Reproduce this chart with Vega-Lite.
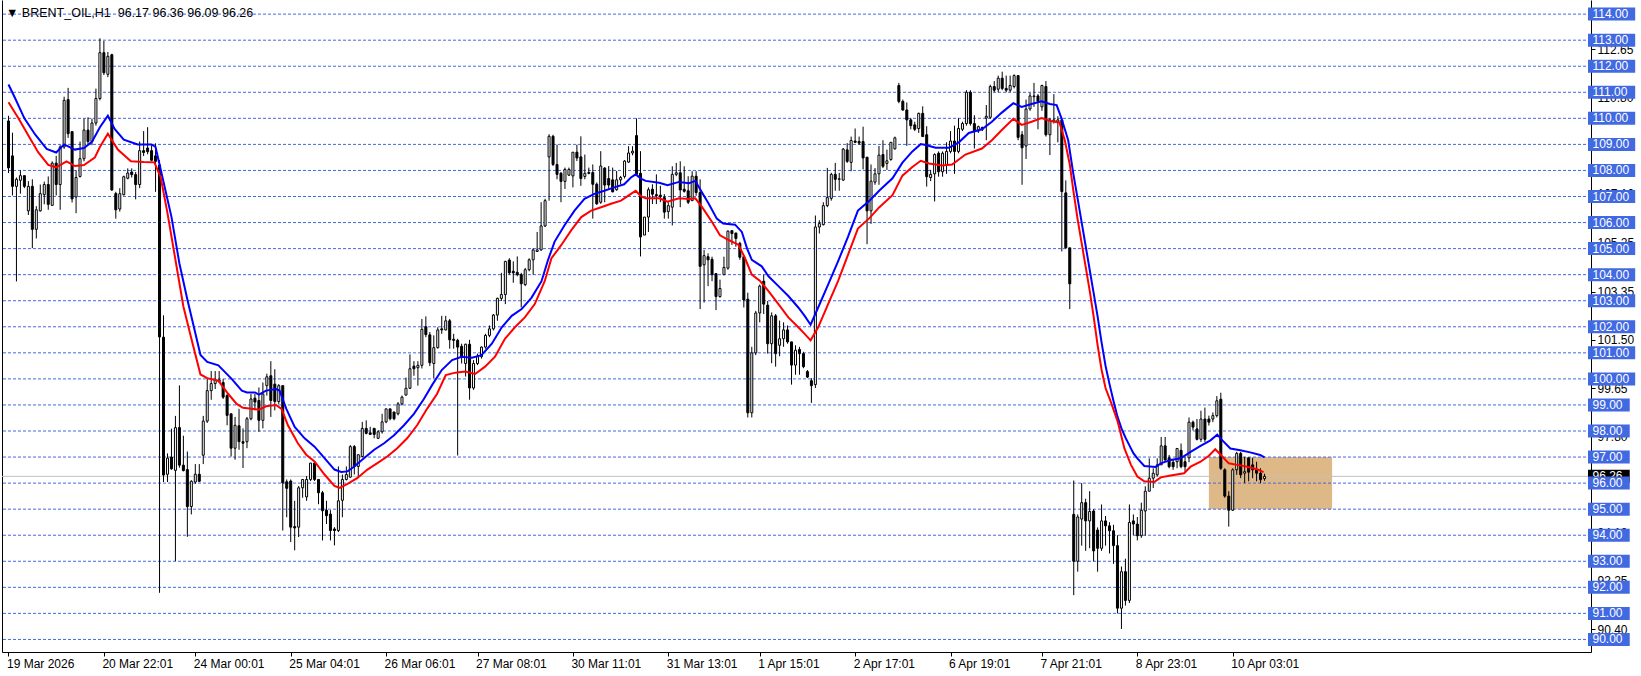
{
"$schema":"https://vega.github.io/schema/vega-lite/v6.json",
"width":1589,"height":652,
"autosize":{"type":"none"},
"padding":{"left":2,"top":0,"right":50,"bottom":24},
"background":"white",
"config":{"view":{"stroke":null},"font":"Liberation Sans"},
"title":{"text":"▼ BRENT_OIL,H1\u00a0 96.17 96.36 96.09 96.26","anchor":"start","frame":"group","orient":"top","offset":0,"dx":4,"dy":29,"font":"Liberation Sans","fontSize":12.5,"fontWeight":"normal","color":"black","baseline":"alphabetic"},
"datasets":{
"lv":[{"p":90},{"p":91},{"p":92},{"p":93},{"p":94},{"p":95},{"p":96},{"p":97},{"p":98},{"p":99},{"p":100},{"p":101},{"p":102},{"p":103},{"p":104},{"p":105},{"p":106},{"p":107},{"p":108},{"p":109},{"p":110},{"p":111},{"p":112},{"p":113},{"p":114}],
"cd":[
{"b":0,"o":109.9,"h":110.1,"l":107.9,"c":108.1},{"b":1,"o":108.56,"h":109.45,"l":107.04,"c":107.39},{"b":2,"o":107.39,"h":107.73,"l":103.74,"c":107.66},{"b":3,"o":107.62,"h":108.01,"l":107.11,"c":107.8},{"b":4,"o":107.8,"h":107.8,"l":107.32,"c":107.39},{"b":5,"o":106.45,"h":107.59,"l":106.29,"c":107.39},{"b":6,"o":107.39,"h":107.66,"l":105.02,"c":105.74},{"b":7,"o":105.74,"h":106.63,"l":105.39,"c":106.49},{"b":8,"o":106.45,"h":107.46,"l":106.42,"c":107.11},{"b":9,"o":107.07,"h":107.57,"l":106.7,"c":107.46},
{"b":10,"o":107.46,"h":107.77,"l":106.49,"c":106.7},{"b":11,"o":106.66,"h":108.35,"l":106.66,"c":108.28},{"b":12,"o":108.28,"h":108.56,"l":107.04,"c":107.46},{"b":13,"o":107.46,"h":108.97,"l":106.49,"c":108.9},{"b":14,"o":108.9,"h":110.83,"l":108.83,"c":110.69},{"b":15,"o":110.72,"h":111.17,"l":109.25,"c":109.41},{"b":16,"o":109.49,"h":109.49,"l":106.77,"c":106.91},{"b":17,"o":106.98,"h":108.01,"l":106.36,"c":107.73},{"b":18,"o":107.77,"h":109.11,"l":107.73,"c":108.45},{"b":19,"o":108.45,"h":109.99,"l":108.35,"c":109.55},
{"b":20,"o":109.55,"h":110.04,"l":108.97,"c":109.11},{"b":21,"o":109.11,"h":109.99,"l":108.97,"c":109.82},{"b":22,"o":109.82,"h":111.14,"l":109.72,"c":110.76},{"b":23,"o":110.76,"h":113.07,"l":110.69,"c":112.52},{"b":24,"o":112.52,"h":112.97,"l":111.66,"c":111.75},{"b":25,"o":111.69,"h":112.55,"l":111.58,"c":112.38},{"b":26,"o":112.44,"h":112.48,"l":107.22,"c":107.25},{"b":27,"o":107.11,"h":107.18,"l":106.15,"c":106.49},{"b":28,"o":106.52,"h":107.32,"l":106.42,"c":107.11},{"b":29,"o":107.07,"h":107.8,"l":107.04,"c":107.76},
{"b":30,"o":107.7,"h":108.08,"l":107.66,"c":107.9},{"b":31,"o":107.94,"h":108.08,"l":107.73,"c":107.84},{"b":32,"o":107.84,"h":107.94,"l":106.89,"c":107.46},{"b":33,"o":107.46,"h":109.11,"l":107.32,"c":108.76},{"b":34,"o":108.76,"h":109.51,"l":108.55,"c":108.69},{"b":35,"o":108.86,"h":109.66,"l":108.62,"c":108.72},{"b":36,"o":108.76,"h":108.97,"l":108.35,"c":108.39},{"b":37,"o":108.56,"h":109.04,"l":107.18,"c":108.35},{"b":38,"o":108.21,"h":108.4,"l":91.79,"c":101.61},{"b":39,"o":101.6,"h":102.44,"l":96.04,"c":96.31},
{"b":40,"o":96.34,"h":97.14,"l":96.04,"c":96.96},{"b":41,"o":97.0,"h":98.09,"l":96.51,"c":96.55},{"b":42,"o":96.49,"h":98.58,"l":93.01,"c":98.13},{"b":43,"o":98.13,"h":99.75,"l":96.59,"c":96.69},{"b":44,"o":96.69,"h":97.82,"l":96.45,"c":96.48},{"b":45,"o":96.52,"h":97.21,"l":93.94,"c":95.1},{"b":46,"o":95.1,"h":96.11,"l":94.8,"c":96.07},{"b":47,"o":96.04,"h":96.73,"l":95.97,"c":96.34},{"b":48,"o":96.34,"h":96.73,"l":96.04,"c":96.07},{"b":49,"o":97.07,"h":98.58,"l":96.73,"c":98.38},
{"b":50,"o":98.38,"h":100.03,"l":98.31,"c":99.55},{"b":51,"o":99.55,"h":100.3,"l":99.2,"c":99.82},{"b":52,"o":99.82,"h":100.3,"l":99.61,"c":99.96},{"b":53,"o":99.89,"h":100.3,"l":99.89,"c":99.96},{"b":54,"o":99.86,"h":99.99,"l":99.23,"c":99.3},{"b":55,"o":99.36,"h":99.42,"l":98.22,"c":98.6},{"b":56,"o":98.66,"h":98.66,"l":97.02,"c":97.34},{"b":57,"o":97.34,"h":98.54,"l":96.9,"c":98.22},{"b":58,"o":98.2,"h":98.85,"l":97.28,"c":97.59},{"b":59,"o":97.59,"h":98.1,"l":96.58,"c":97.53},
{"b":60,"o":97.59,"h":98.54,"l":97.34,"c":98.47},{"b":61,"o":98.47,"h":99.42,"l":98.41,"c":99.23},{"b":62,"o":99.26,"h":99.42,"l":98.79,"c":99.11},{"b":63,"o":99.17,"h":99.67,"l":97.97,"c":98.41},{"b":64,"o":98.41,"h":99.86,"l":98.1,"c":99.42},{"b":65,"o":99.74,"h":100.2,"l":99.36,"c":100.08},{"b":66,"o":100.12,"h":100.68,"l":98.54,"c":99.17},{"b":67,"o":99.8,"h":100.37,"l":98.79,"c":99.13},{"b":68,"o":99.13,"h":99.8,"l":99.04,"c":99.74},{"b":69,"o":99.74,"h":99.74,"l":94.18,"c":96.01},
{"b":70,"o":96.05,"h":96.14,"l":94.69,"c":95.8},{"b":71,"o":96.08,"h":96.14,"l":93.74,"c":94.31},{"b":72,"o":94.33,"h":95.32,"l":93.42,"c":94.28},{"b":73,"o":94.31,"h":95.89,"l":93.93,"c":95.82},{"b":74,"o":95.82,"h":96.14,"l":95.44,"c":96.14},{"b":75,"o":95.47,"h":96.27,"l":95.32,"c":96.14},{"b":76,"o":96.14,"h":96.77,"l":96.08,"c":96.77},{"b":77,"o":96.77,"h":96.84,"l":96.08,"c":96.14},{"b":78,"o":96.14,"h":96.14,"l":95.19,"c":95.63},{"b":79,"o":95.63,"h":95.7,"l":93.8,"c":94.94},
{"b":80,"o":94.96,"h":95.32,"l":94.43,"c":94.75},{"b":81,"o":94.81,"h":94.96,"l":93.8,"c":94.18},{"b":82,"o":94.24,"h":94.31,"l":93.61,"c":94.18},{"b":83,"o":94.18,"h":96.64,"l":94.12,"c":95.32},{"b":84,"o":95.34,"h":96.33,"l":94.69,"c":96.14},{"b":85,"o":96.14,"h":96.64,"l":96.1,"c":96.33},{"b":86,"o":96.23,"h":97.46,"l":96.2,"c":97.4},{"b":87,"o":97.4,"h":97.46,"l":96.33,"c":96.64},{"b":88,"o":96.64,"h":97.09,"l":96.2,"c":97.09},{"b":89,"o":97.02,"h":98.35,"l":96.98,"c":98.1},
{"b":90,"o":98.1,"h":98.41,"l":97.87,"c":97.91},{"b":91,"o":97.93,"h":98.16,"l":97.87,"c":97.87},{"b":92,"o":98.1,"h":98.12,"l":97.72,"c":97.87},{"b":93,"o":97.72,"h":98.03,"l":97.69,"c":97.97},{"b":94,"o":97.97,"h":98.66,"l":97.9,"c":98.35},{"b":95,"o":98.35,"h":98.85,"l":98.3,"c":98.85},{"b":96,"o":98.85,"h":98.85,"l":98.41,"c":98.47},{"b":97,"o":98.73,"h":98.73,"l":98.41,"c":98.47},{"b":98,"o":98.66,"h":99.11,"l":98.6,"c":99.04},{"b":99,"o":99.04,"h":99.36,"l":98.98,"c":99.3},
{"b":100,"o":99.38,"h":100.05,"l":99.36,"c":99.64},{"b":101,"o":99.64,"h":100.94,"l":99.61,"c":100.39},{"b":102,"o":100.49,"h":100.68,"l":100.12,"c":100.39},{"b":103,"o":100.43,"h":100.68,"l":99.74,"c":100.52},{"b":104,"o":100.52,"h":102.3,"l":100.4,"c":101.9},{"b":105,"o":102.0,"h":102.4,"l":101.6,"c":101.7},{"b":106,"o":101.69,"h":101.8,"l":100.49,"c":100.62},{"b":107,"o":100.59,"h":101.67,"l":100.03,"c":101.2},{"b":108,"o":101.2,"h":101.98,"l":101.16,"c":101.88},{"b":109,"o":101.92,"h":102.42,"l":101.73,"c":101.88},
{"b":110,"o":101.88,"h":102.42,"l":101.86,"c":102.23},{"b":111,"o":102.23,"h":102.3,"l":101.16,"c":101.5},{"b":112,"o":101.52,"h":101.73,"l":101.16,"c":101.48},{"b":113,"o":101.48,"h":101.54,"l":97.06,"c":101.22},{"b":114,"o":101.25,"h":101.35,"l":100.59,"c":100.85},{"b":115,"o":100.59,"h":101.35,"l":100.09,"c":101.33},{"b":116,"o":101.33,"h":101.5,"l":99.2,"c":99.65},{"b":117,"o":99.65,"h":100.72,"l":99.58,"c":100.59},{"b":118,"o":100.59,"h":100.97,"l":100.53,"c":100.87},{"b":119,"o":100.85,"h":101.25,"l":100.78,"c":101.22},
{"b":120,"o":101.22,"h":101.73,"l":101.16,"c":101.67},{"b":121,"o":101.67,"h":102.05,"l":101.6,"c":101.92},{"b":122,"o":101.92,"h":102.49,"l":101.86,"c":102.45},{"b":123,"o":102.45,"h":103.12,"l":102.23,"c":103.09},{"b":124,"o":103.09,"h":104.07,"l":102.99,"c":103.24},{"b":125,"o":103.24,"h":104.53,"l":102.87,"c":104.51},{"b":126,"o":104.56,"h":104.63,"l":104.0,"c":104.07},{"b":127,"o":104.13,"h":104.51,"l":103.69,"c":104.07},{"b":128,"o":104.09,"h":104.7,"l":103.94,"c":104.0},{"b":129,"o":104.0,"h":104.07,"l":102.74,"c":103.65},
{"b":130,"o":103.62,"h":104.26,"l":103.56,"c":104.19},{"b":131,"o":104.19,"h":104.63,"l":104.13,"c":104.57},{"b":132,"o":104.57,"h":105.01,"l":104.0,"c":104.95},{"b":133,"o":104.89,"h":105.64,"l":104.89,"c":104.95},{"b":134,"o":104.95,"h":106.78,"l":104.92,"c":105.87},{"b":135,"o":105.87,"h":106.91,"l":105.83,"c":106.84},{"b":136,"o":108.52,"h":109.39,"l":106.84,"c":109.31},{"b":137,"o":109.31,"h":109.37,"l":108.17,"c":108.23},{"b":138,"o":108.23,"h":108.99,"l":107.66,"c":107.85},{"b":139,"o":107.89,"h":107.94,"l":106.78,"c":107.58},
{"b":140,"o":107.58,"h":108.11,"l":107.29,"c":108.04},{"b":141,"o":107.82,"h":108.11,"l":107.79,"c":108.04},{"b":142,"o":107.79,"h":108.7,"l":107.35,"c":108.7},{"b":143,"o":108.7,"h":108.99,"l":108.36,"c":108.48},{"b":144,"o":108.52,"h":109.31,"l":107.41,"c":107.69},{"b":145,"o":107.77,"h":108.61,"l":107.66,"c":107.89},{"b":146,"o":107.92,"h":108.11,"l":107.85,"c":107.89},{"b":147,"o":107.92,"h":108.23,"l":106.15,"c":107.47},{"b":148,"o":107.47,"h":107.54,"l":106.68,"c":106.72},{"b":149,"o":106.78,"h":108.74,"l":106.72,"c":108.17},
{"b":150,"o":108.09,"h":108.13,"l":106.78,"c":107.44},{"b":151,"o":107.69,"h":108.17,"l":107.29,"c":107.44},{"b":152,"o":107.64,"h":108.11,"l":107.16,"c":107.18},{"b":153,"o":107.26,"h":107.98,"l":107.22,"c":107.64},{"b":154,"o":107.64,"h":107.79,"l":107.47,"c":107.73},{"b":155,"o":107.77,"h":108.4,"l":107.69,"c":108.36},{"b":156,"o":108.32,"h":108.93,"l":108.29,"c":108.67},{"b":157,"o":108.67,"h":108.93,"l":108.58,"c":108.74},{"b":158,"o":109.34,"h":110.0,"l":107.79,"c":107.85},{"b":159,"o":107.89,"h":108.74,"l":104.7,"c":105.45},
{"b":160,"o":105.52,"h":106.21,"l":105.52,"c":106.21},{"b":161,"o":106.21,"h":107.35,"l":105.64,"c":107.26},{"b":162,"o":107.28,"h":107.47,"l":106.71,"c":107.09},{"b":163,"o":107.07,"h":107.85,"l":106.71,"c":107.03},{"b":164,"o":107.05,"h":107.41,"l":106.78,"c":106.99},{"b":165,"o":106.96,"h":107.09,"l":106.15,"c":106.4},{"b":166,"o":106.42,"h":106.78,"l":106.15,"c":106.65},{"b":167,"o":106.59,"h":108.16,"l":105.89,"c":107.85},{"b":168,"o":107.85,"h":108.29,"l":107.78,"c":107.91},{"b":169,"o":107.91,"h":108.35,"l":106.59,"c":107.25},
{"b":170,"o":107.28,"h":108.16,"l":107.15,"c":107.2},{"b":171,"o":107.22,"h":107.78,"l":106.71,"c":106.78},{"b":172,"o":106.84,"h":107.97,"l":106.84,"c":107.78},{"b":173,"o":107.78,"h":107.97,"l":107.03,"c":107.15},{"b":174,"o":107.15,"h":107.66,"l":102.68,"c":104.32},{"b":175,"o":104.38,"h":104.95,"l":102.93,"c":104.73},{"b":176,"o":104.69,"h":104.82,"l":103.56,"c":104.57},{"b":177,"o":104.59,"h":104.69,"l":103.75,"c":104.0},{"b":178,"o":104.04,"h":104.06,"l":102.64,"c":103.16},{"b":179,"o":103.16,"h":103.81,"l":103.12,"c":103.47},
{"b":180,"o":104.0,"h":104.69,"l":103.98,"c":104.28},{"b":181,"o":104.25,"h":105.7,"l":104.19,"c":105.67},{"b":182,"o":105.69,"h":105.69,"l":105.14,"c":105.58},{"b":183,"o":105.6,"h":105.6,"l":105.07,"c":105.39},{"b":184,"o":105.2,"h":105.26,"l":104.57,"c":104.67},{"b":185,"o":104.69,"h":104.76,"l":102.74,"c":103.03},{"b":186,"o":103.06,"h":103.31,"l":98.52,"c":98.7},{"b":187,"o":98.7,"h":101.23,"l":98.52,"c":101.0},{"b":188,"o":101.0,"h":102.61,"l":100.91,"c":102.53},{"b":189,"o":102.53,"h":103.62,"l":102.17,"c":103.56},
{"b":190,"o":103.75,"h":104.0,"l":102.49,"c":102.87},{"b":191,"o":102.83,"h":102.99,"l":100.97,"c":101.35},{"b":192,"o":101.35,"h":102.55,"l":100.6,"c":102.42},{"b":193,"o":102.42,"h":102.49,"l":100.47,"c":100.97},{"b":194,"o":101.29,"h":102.24,"l":100.87,"c":101.54},{"b":195,"o":101.54,"h":102.17,"l":101.23,"c":101.88},{"b":196,"o":101.88,"h":102.05,"l":101.35,"c":101.42},{"b":197,"o":101.42,"h":101.42,"l":99.78,"c":100.53},{"b":198,"o":100.53,"h":101.29,"l":100.16,"c":101.1},{"b":199,"o":101.13,"h":101.23,"l":100.16,"c":100.97},
{"b":200,"o":100.97,"h":101.04,"l":100.41,"c":100.47},{"b":201,"o":100.28,"h":100.34,"l":100.03,"c":100.07},{"b":202,"o":99.93,"h":100.03,"l":99.08,"c":99.74},{"b":203,"o":99.78,"h":106.27,"l":99.65,"c":105.83},{"b":204,"o":105.83,"h":106.09,"l":105.58,"c":105.96},{"b":205,"o":105.92,"h":106.78,"l":105.89,"c":106.65},{"b":206,"o":106.65,"h":108.1,"l":106.59,"c":106.96},{"b":207,"o":106.93,"h":107.91,"l":106.84,"c":107.85},{"b":208,"o":107.85,"h":108.29,"l":107.22,"c":107.66},{"b":209,"o":107.66,"h":107.91,"l":107.22,"c":107.68},
{"b":210,"o":107.63,"h":108.86,"l":107.6,"c":108.82},{"b":211,"o":108.79,"h":109.05,"l":108.29,"c":108.35},{"b":212,"o":108.31,"h":109.3,"l":107.97,"c":109.15},{"b":213,"o":109.13,"h":109.61,"l":109.05,"c":109.08},{"b":214,"o":109.11,"h":109.3,"l":108.98,"c":109.05},{"b":215,"o":109.11,"h":109.68,"l":108.04,"c":108.48},{"b":216,"o":108.51,"h":108.51,"l":105.17,"c":106.45},{"b":217,"o":106.45,"h":108.23,"l":105.95,"c":107.59},{"b":218,"o":107.55,"h":108.09,"l":107.45,"c":107.87},{"b":219,"o":107.87,"h":108.94,"l":107.45,"c":108.59},
{"b":220,"o":108.61,"h":109.16,"l":108.09,"c":108.16},{"b":221,"o":108.27,"h":108.8,"l":108.02,"c":108.37},{"b":222,"o":108.42,"h":109.08,"l":108.37,"c":109.08},{"b":223,"o":108.83,"h":109.3,"l":108.8,"c":109.25},{"b":224,"o":111.26,"h":111.36,"l":110.58,"c":110.65},{"b":225,"o":110.65,"h":110.72,"l":110.29,"c":110.32},{"b":226,"o":110.32,"h":110.61,"l":108.94,"c":109.94},{"b":227,"o":109.94,"h":110.01,"l":109.58,"c":109.72},{"b":228,"o":109.75,"h":109.87,"l":109.51,"c":109.58},{"b":229,"o":109.61,"h":110.22,"l":109.44,"c":110.19},
{"b":230,"o":110.19,"h":110.46,"l":109.3,"c":109.3},{"b":231,"o":109.37,"h":109.7,"l":107.38,"c":107.76},{"b":232,"o":107.73,"h":108.02,"l":107.59,"c":107.85},{"b":233,"o":107.87,"h":108.66,"l":106.81,"c":108.61},{"b":234,"o":108.66,"h":108.73,"l":107.76,"c":107.95},{"b":235,"o":107.95,"h":108.73,"l":107.76,"c":108.66},{"b":236,"o":108.23,"h":109.08,"l":107.87,"c":108.73},{"b":237,"o":108.73,"h":109.51,"l":108.66,"c":109.13},{"b":238,"o":109.13,"h":109.72,"l":107.87,"c":108.73},{"b":239,"o":108.73,"h":110.01,"l":108.66,"c":109.61},
{"b":240,"o":109.58,"h":109.87,"l":109.51,"c":109.8},{"b":241,"o":109.8,"h":111.08,"l":109.72,"c":111.0},{"b":242,"o":111.0,"h":111.08,"l":109.72,"c":109.8},{"b":243,"o":109.8,"h":110.12,"l":108.84,"c":109.51},{"b":244,"o":109.51,"h":109.72,"l":109.44,"c":109.68},{"b":245,"o":109.65,"h":109.68,"l":109.51,"c":109.58},{"b":246,"o":110.01,"h":110.51,"l":109.16,"c":110.08},{"b":247,"o":110.04,"h":111.29,"l":109.98,"c":111.22},{"b":248,"o":111.22,"h":111.43,"l":111.0,"c":111.08},{"b":249,"o":111.12,"h":111.64,"l":111.0,"c":111.54},
{"b":250,"o":111.54,"h":111.79,"l":111.08,"c":111.15},{"b":251,"o":111.15,"h":111.64,"l":111.0,"c":111.08},{"b":252,"o":111.08,"h":111.64,"l":111.0,"c":111.26},{"b":253,"o":111.22,"h":111.69,"l":111.15,"c":111.64},{"b":254,"o":111.64,"h":111.64,"l":109.16,"c":109.27},{"b":255,"o":109.37,"h":109.51,"l":107.45,"c":108.87},{"b":256,"o":108.94,"h":110.72,"l":108.44,"c":110.36},{"b":257,"o":110.36,"h":110.98,"l":110.29,"c":110.86},{"b":258,"o":110.83,"h":111.36,"l":110.44,"c":110.86},{"b":259,"o":110.86,"h":110.93,"l":109.58,"c":110.65},
{"b":260,"o":110.44,"h":111.29,"l":110.29,"c":111.26},{"b":261,"o":111.22,"h":111.43,"l":109.3,"c":109.37},{"b":262,"o":109.37,"h":110.01,"l":108.59,"c":109.94},{"b":263,"o":109.89,"h":110.93,"l":109.8,"c":109.94},{"b":264,"o":109.87,"h":110.08,"l":109.08,"c":109.94},{"b":265,"o":109.94,"h":110.01,"l":104.89,"c":107.19},{"b":266,"o":107.14,"h":107.62,"l":105.0,"c":105.03},{"b":267,"o":105.03,"h":105.03,"l":102.68,"c":103.65},{"b":268,"o":94.8,"h":96.1,"l":91.7,"c":93.0},{"b":269,"o":93.0,"h":94.8,"l":92.6,"c":94.7},
{"b":270,"o":94.62,"h":96.0,"l":93.6,"c":95.25},{"b":271,"o":95.25,"h":95.4,"l":93.4,"c":94.55},{"b":272,"o":94.55,"h":95.69,"l":93.5,"c":94.91},{"b":273,"o":94.93,"h":95.0,"l":93.0,"c":93.4},{"b":274,"o":94.2,"h":94.3,"l":92.6,"c":93.5},{"b":275,"o":93.5,"h":95.18,"l":93.4,"c":94.55},{"b":276,"o":94.55,"h":94.74,"l":93.6,"c":94.36},{"b":277,"o":94.36,"h":94.5,"l":93.3,"c":94.17},{"b":278,"o":94.17,"h":94.4,"l":92.9,"c":93.6},{"b":279,"o":93.6,"h":94.0,"l":91.0,"c":91.2},
{"b":280,"o":91.2,"h":92.8,"l":90.4,"c":92.6},{"b":281,"o":92.6,"h":93.1,"l":91.3,"c":91.5},{"b":282,"o":91.5,"h":95.18,"l":91.4,"c":94.49},{"b":283,"o":94.55,"h":94.8,"l":94.0,"c":94.43},{"b":284,"o":94.43,"h":94.7,"l":93.8,"c":93.98},{"b":285,"o":93.98,"h":95.25,"l":93.9,"c":94.96},{"b":286,"o":94.93,"h":95.88,"l":93.98,"c":95.69},{"b":287,"o":95.69,"h":96.95,"l":95.69,"c":96.19},{"b":288,"o":96.19,"h":96.57,"l":95.81,"c":96.38},{"b":289,"o":96.32,"h":96.95,"l":96.25,"c":96.7},
{"b":290,"o":96.7,"h":97.77,"l":96.7,"c":97.43},{"b":291,"o":97.43,"h":97.77,"l":96.82,"c":96.89},{"b":292,"o":96.97,"h":97.08,"l":96.57,"c":96.63},{"b":293,"o":96.8,"h":96.92,"l":96.51,"c":96.63},{"b":294,"o":96.82,"h":97.33,"l":96.57,"c":97.33},{"b":295,"o":97.26,"h":97.52,"l":96.57,"c":96.63},{"b":296,"o":96.82,"h":97.01,"l":96.44,"c":96.63},{"b":297,"o":96.97,"h":98.52,"l":96.8,"c":98.34},{"b":298,"o":98.34,"h":98.4,"l":98.02,"c":98.15},{"b":299,"o":98.08,"h":98.46,"l":97.64,"c":97.68},
{"b":300,"o":97.68,"h":98.78,"l":97.58,"c":98.46},{"b":301,"o":98.46,"h":98.9,"l":97.58,"c":97.68},{"b":302,"o":98.46,"h":98.59,"l":98.21,"c":98.34},{"b":303,"o":98.46,"h":98.71,"l":98.34,"c":98.59},{"b":304,"o":98.59,"h":99.34,"l":98.52,"c":99.16},{"b":305,"o":99.22,"h":99.47,"l":96.51,"c":96.57},{"b":306,"o":96.51,"h":96.57,"l":95.44,"c":95.5},{"b":307,"o":95.5,"h":95.69,"l":94.33,"c":94.96},{"b":308,"o":94.96,"h":96.57,"l":94.93,"c":96.51},{"b":309,"o":96.51,"h":97.2,"l":96.32,"c":97.14},
{"b":310,"o":97.14,"h":97.2,"l":96.19,"c":96.32},{"b":311,"o":96.38,"h":97.01,"l":96.0,"c":96.44},{"b":312,"o":96.97,"h":96.97,"l":96.07,"c":96.42},{"b":313,"o":96.7,"h":96.97,"l":96.19,"c":96.51},{"b":314,"o":96.51,"h":96.82,"l":96.07,"c":96.38},{"b":315,"o":96.38,"h":96.57,"l":96.0,"c":96.13},{"b":316,"o":96.17,"h":96.36,"l":96.09,"c":96.26}
],
"ma":[
{"s":"b","b":0,"v":111.3},{"s":"b","b":1.7,"v":110.76},{"s":"b","b":4,"v":110.0},{"s":"b","b":6.7,"v":109.38},{"s":"b","b":9.6,"v":108.83},{"s":"b","b":12,"v":108.69},{"s":"b","b":14,"v":109.0},{"s":"b","b":16.7,"v":108.8},{"s":"b","b":19,"v":108.86},{"s":"b","b":21,"v":109.1},{"s":"b","b":23,"v":109.66},{"s":"b","b":25,"v":110.1},{"s":"b","b":26.7,"v":109.59},{"s":"b","b":29,"v":109.18},{"s":"b","b":32.5,"v":109.0},{"s":"b","b":36,"v":109.0},{"s":"b","b":37,"v":108.9},{"s":"b","b":38.75,"v":107.73},{"s":"b","b":41,"v":106.22},{"s":"b","b":43,"v":104.43},{"s":"b","b":45,"v":103.05},{"s":"b","b":46.7,"v":101.95},{"s":"b","b":48.3,"v":100.92},{"s":"b","b":50,"v":100.65},{"s":"b","b":52.8,"v":100.52},{"s":"b","b":56.2,"v":99.99},{"s":"b","b":58.7,"v":99.55},{"s":"b","b":60,"v":99.48},{"s":"b","b":62,"v":99.48},{"s":"b","b":63,"v":99.4},{"s":"b","b":64.8,"v":99.55},{"s":"b","b":67.3,"v":99.61},{"s":"b","b":68.2,"v":99.55},{"s":"b","b":69.9,"v":98.85},{"s":"b","b":72,"v":98.16},{"s":"b","b":74.5,"v":97.72},{"s":"b","b":77,"v":97.4},{"s":"b","b":79.5,"v":96.96},{"s":"b","b":82,"v":96.52},{"s":"b","b":83.7,"v":96.43},{"s":"b","b":85.3,"v":96.45},{"s":"b","b":87,"v":96.64},{"s":"b","b":89.5,"v":96.96},{"s":"b","b":92,"v":97.28},{"s":"b","b":94.5,"v":97.53},{"s":"b","b":97,"v":97.84},{"s":"b","b":99.5,"v":98.22},{"s":"b","b":102,"v":98.66},{"s":"b","b":104.5,"v":99.23},{"s":"b","b":106.6,"v":99.77},{"s":"b","b":109,"v":100.34},{"s":"b","b":111.6,"v":100.72},{"s":"b","b":114,"v":100.85},{"s":"b","b":116.6,"v":100.81},{"s":"b","b":119,"v":100.91},{"s":"b","b":121.6,"v":101.35},{"s":"b","b":124.1,"v":101.98},{"s":"b","b":126.6,"v":102.42},{"s":"b","b":129.1,"v":102.68},{"s":"b","b":131.6,"v":103.12},{"s":"b","b":134.1,"v":103.75},{"s":"b","b":135.75,"v":104.57},{"s":"b","b":137.4,"v":105.27},{"s":"b","b":139.9,"v":105.9},{"s":"b","b":142.4,"v":106.46},{"s":"b","b":144.9,"v":106.91},{"s":"b","b":147.4,"v":107.1},{"s":"b","b":149.9,"v":107.22},{"s":"b","b":152.4,"v":107.35},{"s":"b","b":154.9,"v":107.47},{"s":"b","b":156.6,"v":107.73},{"s":"b","b":157.8,"v":107.85},{"s":"b","b":159.1,"v":107.69},{"s":"b","b":160.3,"v":107.6},{"s":"b","b":163.7,"v":107.53},{"s":"b","b":165.8,"v":107.43},{"s":"b","b":168.7,"v":107.56},{"s":"b","b":171.2,"v":107.51},{"s":"b","b":172.8,"v":107.6},{"s":"b","b":174,"v":107.28},{"s":"b","b":176.2,"v":106.71},{"s":"b","b":178.2,"v":106.15},{"s":"b","b":179.8,"v":105.96},{"s":"b","b":182.8,"v":105.92},{"s":"b","b":184.5,"v":105.64},{"s":"b","b":185.8,"v":105.01},{"s":"b","b":187,"v":104.57},{"s":"b","b":189.5,"v":104.32},{"s":"b","b":191.2,"v":103.94},{"s":"b","b":193.7,"v":103.56},{"s":"b","b":196.2,"v":103.18},{"s":"b","b":198.7,"v":102.74},{"s":"b","b":200.3,"v":102.42},{"s":"b","b":201.8,"v":102.08},{"s":"b","b":203.7,"v":102.74},{"s":"b","b":206.2,"v":103.62},{"s":"b","b":208.7,"v":104.51},{"s":"b","b":211.2,"v":105.45},{"s":"b","b":213.7,"v":106.46},{"s":"b","b":216.6,"v":106.84},{"s":"b","b":219.1,"v":107.23},{"s":"b","b":222.4,"v":107.7},{"s":"b","b":224.9,"v":108.3},{"s":"b","b":227.4,"v":108.73},{"s":"b","b":229.5,"v":109.01},{"s":"b","b":230.75,"v":108.98},{"s":"b","b":233.25,"v":108.87},{"s":"b","b":236.6,"v":108.87},{"s":"b","b":239.1,"v":109.08},{"s":"b","b":241.6,"v":109.44},{"s":"b","b":244.9,"v":109.58},{"s":"b","b":247.4,"v":109.87},{"s":"b","b":249.9,"v":110.22},{"s":"b","b":252.8,"v":110.58},{"s":"b","b":254.9,"v":110.44},{"s":"b","b":257.4,"v":110.55},{"s":"b","b":259.9,"v":110.65},{"s":"b","b":262,"v":110.55},{"s":"b","b":263.7,"v":110.51},{"s":"b","b":264.9,"v":110.01},{"s":"b","b":266.6,"v":109.16},{"s":"b","b":267.9,"v":107.87},{"s":"b","b":269,"v":106.9},{"s":"b","b":270,"v":106.0},{"s":"b","b":271,"v":105.1},{"s":"b","b":272,"v":104.2},{"s":"b","b":273,"v":103.3},{"s":"b","b":274,"v":102.4},{"s":"b","b":275,"v":101.4},{"s":"b","b":276,"v":100.5},{"s":"b","b":277,"v":99.8},{"s":"b","b":278,"v":99.15},{"s":"b","b":279,"v":98.55},{"s":"b","b":280,"v":98.1},{"s":"b","b":281,"v":97.75},{"s":"b","b":282,"v":97.45},{"s":"b","b":283,"v":97.15},{"s":"b","b":284,"v":96.95},{"s":"b","b":285.75,"v":96.66},{"s":"b","b":288.6,"v":96.62},{"s":"b","b":289.9,"v":96.76},{"s":"b","b":292.4,"v":96.89},{"s":"b","b":294.9,"v":96.95},{"s":"b","b":297.4,"v":97.2},{"s":"b","b":299.9,"v":97.43},{"s":"b","b":302.4,"v":97.64},{"s":"b","b":304.1,"v":97.86},{"s":"b","b":305.4,"v":97.64},{"s":"b","b":307.4,"v":97.33},{"s":"b","b":309.9,"v":97.26},{"s":"b","b":312.4,"v":97.18},{"s":"b","b":314.9,"v":97.08},{"s":"b","b":316,"v":96.99},
{"s":"r","b":0,"v":110.62},{"s":"r","b":2.5,"v":110.0},{"s":"r","b":5.4,"v":109.24},{"s":"r","b":7.5,"v":108.69},{"s":"r","b":10,"v":108.21},{"s":"r","b":12,"v":108.12},{"s":"r","b":14.6,"v":108.35},{"s":"r","b":16.7,"v":108.17},{"s":"r","b":19,"v":108.21},{"s":"r","b":21.7,"v":108.49},{"s":"r","b":23,"v":108.9},{"s":"r","b":25,"v":109.41},{"s":"r","b":27.5,"v":108.8},{"s":"r","b":30.8,"v":108.35},{"s":"r","b":34,"v":108.32},{"s":"r","b":36.7,"v":108.31},{"s":"r","b":38.3,"v":107.73},{"s":"r","b":40,"v":106.36},{"s":"r","b":41.7,"v":104.84},{"s":"r","b":44,"v":102.78},{"s":"r","b":46.25,"v":101.4},{"s":"r","b":48.3,"v":100.17},{"s":"r","b":50,"v":100.03},{"s":"r","b":52.8,"v":99.93},{"s":"r","b":55.3,"v":99.42},{"s":"r","b":57.4,"v":99.04},{"s":"r","b":59,"v":98.89},{"s":"r","b":61.2,"v":98.85},{"s":"r","b":63,"v":98.82},{"s":"r","b":64.8,"v":98.95},{"s":"r","b":67.3,"v":99.0},{"s":"r","b":68.7,"v":98.85},{"s":"r","b":70.3,"v":98.22},{"s":"r","b":72.8,"v":97.53},{"s":"r","b":74.9,"v":97.09},{"s":"r","b":77,"v":96.83},{"s":"r","b":79.5,"v":96.33},{"s":"r","b":82,"v":95.89},{"s":"r","b":83.3,"v":95.82},{"s":"r","b":85.3,"v":95.97},{"s":"r","b":87.8,"v":96.2},{"s":"r","b":90.3,"v":96.52},{"s":"r","b":92.8,"v":96.77},{"s":"r","b":95.3,"v":97.02},{"s":"r","b":97.8,"v":97.34},{"s":"r","b":100.3,"v":97.72},{"s":"r","b":102.8,"v":98.22},{"s":"r","b":105.3,"v":98.85},{"s":"r","b":107.8,"v":99.42},{"s":"r","b":110,"v":100.15},{"s":"r","b":112.4,"v":100.24},{"s":"r","b":114.9,"v":100.28},{"s":"r","b":117.4,"v":100.19},{"s":"r","b":119.9,"v":100.47},{"s":"r","b":122.4,"v":100.85},{"s":"r","b":124.9,"v":101.54},{"s":"r","b":127.4,"v":101.98},{"s":"r","b":129.9,"v":102.36},{"s":"r","b":132.4,"v":102.87},{"s":"r","b":134.9,"v":103.75},{"s":"r","b":136.6,"v":104.63},{"s":"r","b":139.1,"v":105.14},{"s":"r","b":141.6,"v":105.71},{"s":"r","b":144.1,"v":106.21},{"s":"r","b":146.6,"v":106.46},{"s":"r","b":149.1,"v":106.59},{"s":"r","b":151.6,"v":106.72},{"s":"r","b":154.1,"v":106.84},{"s":"r","b":156.6,"v":107.1},{"s":"r","b":157.8,"v":107.22},{"s":"r","b":159.1,"v":107.01},{"s":"r","b":160.3,"v":106.93},{"s":"r","b":163.7,"v":106.93},{"s":"r","b":165.8,"v":106.8},{"s":"r","b":168.7,"v":106.93},{"s":"r","b":171.2,"v":106.9},{"s":"r","b":172.8,"v":106.93},{"s":"r","b":174.5,"v":106.59},{"s":"r","b":177,"v":106.02},{"s":"r","b":179,"v":105.51},{"s":"r","b":181.2,"v":105.33},{"s":"r","b":183.7,"v":105.14},{"s":"r","b":185.3,"v":104.63},{"s":"r","b":187,"v":104.0},{"s":"r","b":189,"v":103.77},{"s":"r","b":191.2,"v":103.37},{"s":"r","b":193.7,"v":102.87},{"s":"r","b":196.2,"v":102.36},{"s":"r","b":198.7,"v":101.98},{"s":"r","b":200.3,"v":101.73},{"s":"r","b":201.8,"v":101.48},{"s":"r","b":203.7,"v":101.98},{"s":"r","b":206.2,"v":102.87},{"s":"r","b":208.7,"v":103.75},{"s":"r","b":211.2,"v":104.76},{"s":"r","b":213.7,"v":105.77},{"s":"r","b":216.6,"v":106.17},{"s":"r","b":219.1,"v":106.59},{"s":"r","b":222.4,"v":107.05},{"s":"r","b":224.9,"v":107.8},{"s":"r","b":227.4,"v":108.13},{"s":"r","b":229.5,"v":108.37},{"s":"r","b":231.6,"v":108.27},{"s":"r","b":234.9,"v":108.19},{"s":"r","b":237.4,"v":108.23},{"s":"r","b":240.75,"v":108.61},{"s":"r","b":244.9,"v":108.84},{"s":"r","b":247.4,"v":109.16},{"s":"r","b":249.9,"v":109.55},{"s":"r","b":252.8,"v":109.98},{"s":"r","b":254.9,"v":109.75},{"s":"r","b":257.4,"v":109.87},{"s":"r","b":259.9,"v":110.01},{"s":"r","b":262.4,"v":109.89},{"s":"r","b":264.4,"v":109.84},{"s":"r","b":265.75,"v":109.16},{"s":"r","b":267,"v":108.23},{"s":"r","b":267.9,"v":107.23},{"s":"r","b":269,"v":106.1},{"s":"r","b":270,"v":105.2},{"s":"r","b":271,"v":104.3},{"s":"r","b":272,"v":103.4},{"s":"r","b":273,"v":102.4},{"s":"r","b":274,"v":101.3},{"s":"r","b":275,"v":100.35},{"s":"r","b":276,"v":99.65},{"s":"r","b":277.4,"v":99.09},{"s":"r","b":279.1,"v":98.34},{"s":"r","b":280.75,"v":97.33},{"s":"r","b":282.4,"v":96.7},{"s":"r","b":284,"v":96.25},{"s":"r","b":285.75,"v":96.07},{"s":"r","b":288.25,"v":96.04},{"s":"r","b":289.9,"v":96.22},{"s":"r","b":292.4,"v":96.29},{"s":"r","b":295.75,"v":96.38},{"s":"r","b":297.4,"v":96.63},{"s":"r","b":299.9,"v":96.82},{"s":"r","b":302,"v":97.05},{"s":"r","b":303.6,"v":97.3},{"s":"r","b":304.9,"v":97.1},{"s":"r","b":307,"v":96.76},{"s":"r","b":309.1,"v":96.7},{"s":"r","b":311.6,"v":96.63},{"s":"r","b":314.1,"v":96.53},{"s":"r","b":315.75,"v":96.42}
]
},
"resolve":{"axis":{"y":"independent","x":"independent"}},
"layer":[
{"data":{"values":[{"x1":302,"x2":333,"p1":95,"p2":97}]},
 "mark":{"type":"rect","fill":"#DEB887"},
 "encoding":{
  "x":{"field":"x1","type":"quantitative","scale":{"domain":[-0.375,396.875],"nice":false,"zero":false},"axis":{"orient":"bottom","values":[0,24,47,71,95,118,142,166,189,213,237,260,284,308],"labelExpr":"['19 Mar 2026','20 Mar 22:01','24 Mar 00:01','25 Mar 04:01','26 Mar 06:01','27 Mar 08:01','30 Mar 11:01','31 Mar 13:01','1 Apr 15:01','2 Apr 17:01','6 Apr 19:01','7 Apr 21:01','8 Apr 23:01','10 Apr 03:01'][indexof([0,24,47,71,95,118,142,166,189,213,237,260,284,308], datum.value)]","title":null,"grid":false,"tickSize":4,"tickColor":"black","domainColor":"black","labelColor":"black","labelFont":"Liberation Sans","labelFontSize":12,"labelAlign":"left","labelBaseline":"top","labelPadding":2,"labelOffset":-2,"labelOverlap":false,"labelBound":false,"labelFlush":false}},
  "x2":{"field":"x2"},
  "y":{"field":"p1","type":"quantitative","scale":{"domain":[89.71,114.35],"nice":false,"zero":false},"axis":{"orient":"left","labels":false,"ticks":false,"grid":false,"title":null,"domainColor":"black"}},
  "y2":{"field":"p2"}}},
{"data":{"name":"lv"},
 "mark":{"type":"rule","stroke":"#4169E1","strokeWidth":1,"strokeDash":[3,2]},
 "encoding":{"y":{"field":"p","type":"quantitative","scale":{"domain":[89.71,114.35],"nice":false,"zero":false},"axis":null}}},
{"data":{"values":[{"p":96.26}]},
 "mark":{"type":"rule","stroke":"#C0C0C0","strokeWidth":1},
 "encoding":{"y":{"field":"p","type":"quantitative","scale":{"domain":[89.71,114.35],"nice":false,"zero":false},"axis":null}}},
{"data":{"name":"cd"},
 "mark":{"type":"rule","stroke":"black","strokeWidth":1},
 "encoding":{
  "x":{"field":"b","type":"quantitative","scale":{"domain":[-0.375,396.875],"nice":false,"zero":false},"axis":null},
  "y":{"field":"l","type":"quantitative","scale":{"domain":[89.71,114.35],"nice":false,"zero":false},"axis":{"orient":"right","values":[90.4,92.25,94.1,95.95,97.8,99.65,101.5,103.35,105.25,107.1,108.95,110.8,112.65],"format":".2f","title":null,"grid":false,"tickSize":4,"tickColor":"black","domainColor":"black","labelColor":"black","labelFont":"Liberation Sans","labelFontSize":12,"labelPadding":2,"labelOverlap":false,"labelBound":false,"labelFlush":false}},
  "y2":{"field":"h"}}},
{"data":{"name":"cd"},
 "mark":{"type":"bar","size":2,"stroke":"black","strokeWidth":1},
 "encoding":{
  "x":{"field":"b","type":"quantitative","scale":{"domain":[-0.375,396.875],"nice":false,"zero":false},"axis":null},
  "y":{"field":"o","type":"quantitative","scale":{"domain":[89.71,114.35],"nice":false,"zero":false},"axis":null},
  "y2":{"field":"c"},
  "fill":{"condition":{"test":"datum.c >= datum.o","value":"white"},"value":"black"}}},
{"data":{"name":"ma"},
 "mark":{"type":"line","strokeWidth":2},
 "encoding":{
  "x":{"field":"b","type":"quantitative","scale":{"domain":[-0.375,396.875],"nice":false,"zero":false},"axis":null},
  "y":{"field":"v","type":"quantitative","scale":{"domain":[89.71,114.35],"nice":false,"zero":false},"axis":null},
  "color":{"field":"s","type":"nominal","scale":{"domain":["b","r"],"range":["#0000FF","#FF0000"]},"legend":null}}},
{"data":{"values":[{"p":96.26}]},
 "mark":{"type":"bar","size":13,"color":"black"},
 "encoding":{
  "x":{"datum":397.375,"type":"quantitative","scale":{"domain":[-0.375,396.875],"nice":false,"zero":false},"axis":null},
  "x2":{"datum":407.875},
  "y":{"field":"p","type":"quantitative","scale":{"domain":[89.71,114.35],"nice":false,"zero":false},"axis":null}}},
{"data":{"values":[{"p":96.26}]},
 "mark":{"type":"text","color":"white","font":"Liberation Sans","fontSize":12,"align":"left","baseline":"middle"},
 "encoding":{
  "x":{"datum":398.5,"type":"quantitative","scale":{"domain":[-0.375,396.875],"nice":false,"zero":false},"axis":null},
  "y":{"field":"p","type":"quantitative","scale":{"domain":[89.71,114.35],"nice":false,"zero":false},"axis":null},
  "text":{"field":"p","type":"quantitative","format":".2f"}}},
{"data":{"name":"lv"},
 "transform":[{"filter":"datum.p < 100"}],
 "mark":{"type":"bar","size":13,"color":"#4169E1"},
 "encoding":{
  "x":{"datum":397.375,"type":"quantitative","scale":{"domain":[-0.375,396.875],"nice":false,"zero":false},"axis":null},
  "x2":{"datum":407.875},
  "y":{"field":"p","type":"quantitative","scale":{"domain":[89.71,114.35],"nice":false,"zero":false},"axis":null}}},
{"data":{"name":"lv"},
 "transform":[{"filter":"datum.p >= 100"}],
 "mark":{"type":"bar","size":13,"color":"#4169E1"},
 "encoding":{
  "x":{"datum":397.375,"type":"quantitative","scale":{"domain":[-0.375,396.875],"nice":false,"zero":false},"axis":null},
  "x2":{"datum":409.25},
  "y":{"field":"p","type":"quantitative","scale":{"domain":[89.71,114.35],"nice":false,"zero":false},"axis":null}}},
{"data":{"name":"lv"},
 "mark":{"type":"text","color":"white","font":"Liberation Sans","fontSize":12,"align":"left","baseline":"middle"},
 "encoding":{
  "x":{"datum":398.5,"type":"quantitative","scale":{"domain":[-0.375,396.875],"nice":false,"zero":false},"axis":null},
  "y":{"field":"p","type":"quantitative","scale":{"domain":[89.71,114.35],"nice":false,"zero":false},"axis":null},
  "text":{"field":"p","type":"quantitative","format":".2f"}}}
]
}
